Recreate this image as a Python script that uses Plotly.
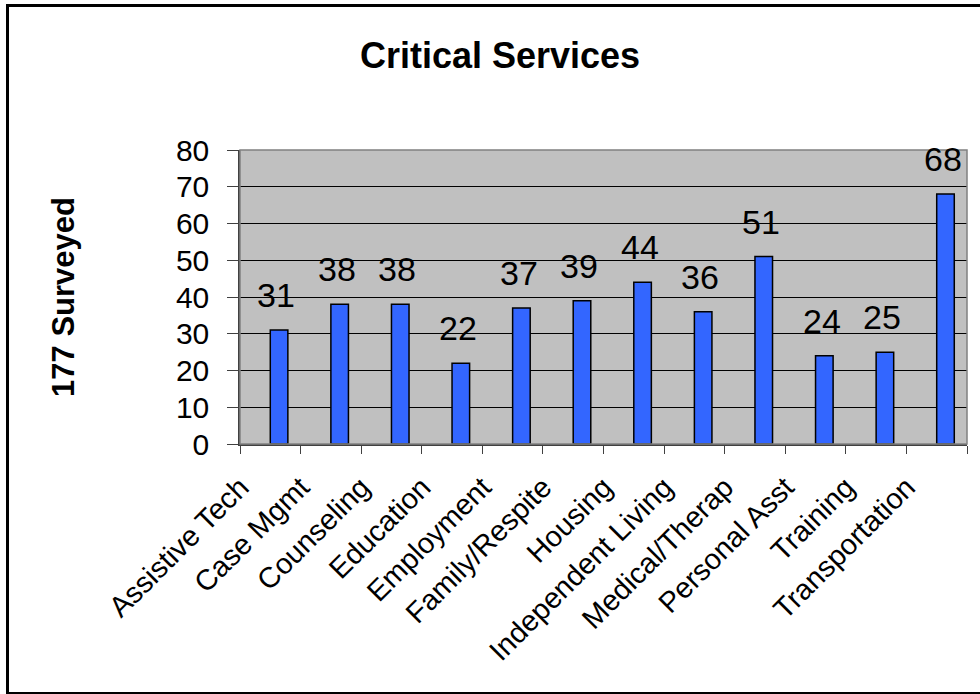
import plotly.graph_objects as go

categories = ["Assistive Tech", "Case Mgmt", "Counseling", "Education", "Employment",
              "Family/Respite", "Housing", "Independent Living", "Medical/Therap",
              "Personal Asst", "Training", "Transportation"]
values = [31, 38, 38, 22, 37, 39, 44, 36, 51, 24, 25, 68]
y_ticks = [0, 10, 20, 30, 40, 50, 60, 70, 80]

W, H = 980, 694
ML, MR, MT, MB = 240, 13, 150, 250
PW, PH = W - ML - MR, H - MT - MB

FONT = "Liberation Sans, Arial, sans-serif"

fig = go.Figure()
fig.add_trace(go.Bar(
    x=categories, y=values,
    width=0.29, offset=0.0,
    marker=dict(color="#3366FF", line=dict(color="black", width=1.5)),
    hoverinfo="x+y",
))

for c, v in zip(categories, values):
    fig.add_annotation(x=c, y=v, text=str(v), showarrow=False,
                       yanchor="bottom", xanchor="center", xshift=6, yshift=14,
                       font=dict(family=FONT, size=34, color="black"))

def px2paper_x(px):
    return (px - ML) / PW

def px2paper_y(py):
    return (H - MB - py) / PH

# outer chart border
fig.add_shape(type="rect", xref="paper", yref="paper",
              x0=px2paper_x(7.5), x1=px2paper_x(1000),
              y0=px2paper_y(693.5), y1=px2paper_y(5.5),
              line=dict(color="black", width=3), layer="above")

fig.update_layout(
    width=W, height=H,
    margin=dict(l=ML, r=MR, t=MT, b=MB, pad=0),
    paper_bgcolor="white",
    plot_bgcolor="#C0C0C0",
    showlegend=False,
    bargap=0.7,
    title=dict(text="<b>Critical Services</b>", x=(500) / W, xanchor="center",
               y=1 - 55 / H, yanchor="middle",
               font=dict(family=FONT, size=36, color="black")),
    font=dict(family=FONT, color="black"),
)

fig.update_xaxes(
    type="category",
    tickangle=-45,
    tickson="boundaries",
    ticks="outside", ticklen=8, tickcolor="#404040", tickwidth=1,
    showline=True, linecolor="#404040", linewidth=1.5, mirror=False,
    showgrid=False,
    tickfont=dict(family=FONT, size=29, color="black"),
    ticklabelshift=-30,
    ticklabelstandoff=13,
)

fig.update_yaxes(
    range=[0, 80], tickvals=y_ticks,
    ticks="outside", ticklen=11, tickcolor="#404040", tickwidth=1,
    showline=True, linecolor="#404040", linewidth=1.5,
    showgrid=True, gridcolor="black", gridwidth=1,
    zeroline=False,
    tickfont=dict(family=FONT, size=30, color="black"),
    ticklabelstandoff=12,
    title=dict(text="<b>177 Surveyed</b>", standoff=92,
               font=dict(family=FONT, size=31, color="black")),
)

# plot area border in gray
fig.add_shape(type="rect", xref="paper", yref="paper", x0=0, x1=1, y0=0, y1=1,
              line=dict(color="#808080", width=1.5), layer="above")

fig.write_html("out.html")
